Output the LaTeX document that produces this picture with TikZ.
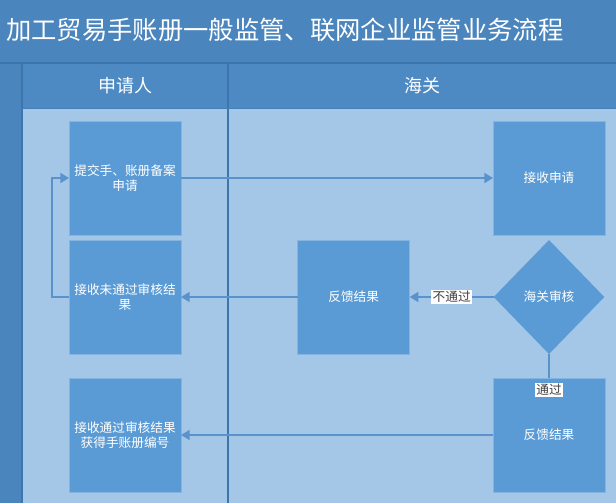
\documentclass[tikz,border=0pt]{standalone}
\usepackage{fontspec}
\setmainfont{Noto Sans CJK SC}
\usetikzlibrary{shapes.geometric,arrows.meta}
\usetikzlibrary{positioning}
\definecolor{titleblue}{HTML}{4A85BD}
\definecolor{headblue}{HTML}{4D8AC4}
\definecolor{lanefill}{HTML}{A4C6E7}
\definecolor{boxfill}{HTML}{5B9BD5}
\definecolor{flowline}{HTML}{5A92CC}
\definecolor{rulecol}{HTML}{3E76AC}
\tikzstyle{arrow} = [flowline, line width=1.1pt, ->, >={Triangle[width=7.5pt,length=6.5pt]}]
\tikzstyle{flow} = [flowline, line width=1.1pt]
\tikzstyle{task} = [
    rectangle, minimum width=84pt, minimum height=85.5pt, inner sep=2pt, outer sep=0pt,
    fill=boxfill, draw=boxfill!75!white, line width=0.6pt, text=white, align=center,
    font=\fontsize{9.5}{11.5}\selectfont]
\tikzstyle{decision} = [
    diamond, minimum width=83pt, minimum height=85.5pt, inner sep=0pt, outer sep=0pt,
    fill=boxfill, text=white, font=\fontsize{9.5}{11.5}\selectfont]
\tikzstyle{tag} = [fill=white, inner sep=1pt, text=black!75, font=\fontsize{9.5}{11}\selectfont]
\tikzstyle{lanehead} = [text=white, font=\fontsize{13.5}{14}\selectfont]

\begin{document}
\begin{tikzpicture}[x=0.75pt,y=-0.75pt]
\useasboundingbox (0,0) rectangle (616,503);
% bands of the pool
\fill [titleblue] (0,0) rectangle (616,503);
\fill [headblue] (22,63) rectangle (616,108);
\fill [lanefill] (22,108) rectangle (616,503);
\draw [rulecol, line width=1pt] (0,63) -- (616,63);
\draw [rulecol, line width=0.8pt] (22,63) -- (22,503);
\draw [rulecol, line width=0.8pt] (228,63) -- (228,503);
\draw [rulecol!50!headblue, line width=0.6pt] (22,108) -- (616,108);

\node (title) [anchor=west, inner sep=0pt, text=white, font=\fontsize{19}{19}\selectfont] at (6,30)
    {加工贸易手账册一般监管、联网企业监管业务流程};
\node (applicant) [lanehead] at (125,86) {申请人};
\node (customs) [lanehead] at (422,86) {海关};

\node (submit) [task] at (125,178) {提交手、账册备案\\申请};
\node (reject) [task, below=3.75pt of submit] {接收未通过审核结\\果};
\node (approve) [task, below=18pt of reject] {接收通过审核结果\\获得手账册编号};

\node (receive) [task] at (549,178) {接收申请};
\node (check) [decision, below=3.75pt of receive] {海关审核};
\node (feedbackno) [task, left=63pt of check] {反馈结果};
\node (feedbackok) [task, below=18pt of check] {反馈结果};

\draw [arrow] (submit) -- (receive);
\draw [arrow] (check) -- node [tag] {不通过} (feedbackno);
\draw [arrow] (feedbackno) -- (reject);
\draw [arrow] (reject.west) -- ++(-17,0) |- (submit.west);
\draw [flow] (check) -- (feedbackok) node [tag, at end, below=3pt] {通过};
\draw [arrow] (feedbackok) -- (approve);
\end{tikzpicture}
\end{document}
